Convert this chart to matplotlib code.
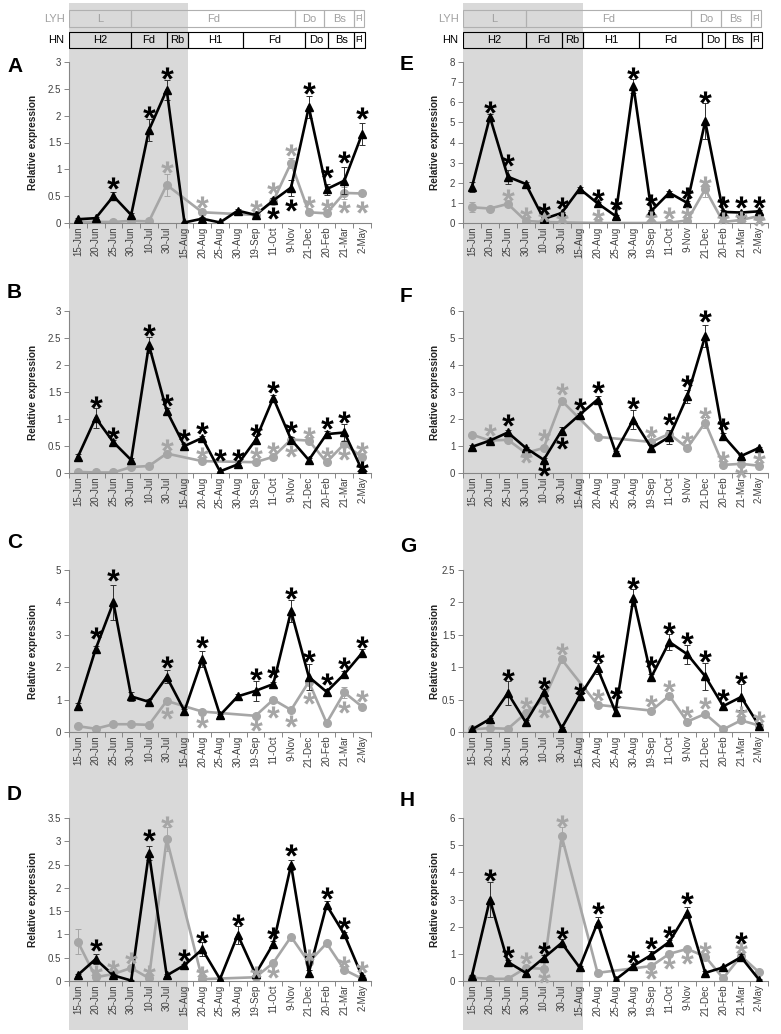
import numpy as np
import matplotlib
matplotlib.use('Agg')
import matplotlib.pyplot as plt
from matplotlib.patches import Rectangle
from matplotlib.textpath import TextPath
from matplotlib.font_manager import FontProperties
from matplotlib.path import Path
from matplotlib.ticker import FuncFormatter

plt.rcParams['font.family'] = ['Liberation Sans', 'DejaVu Sans']

N = np.nan

dates = ['15-Jun', '20-Jun', '25-Jun', '30-Jun', '10-Jul', '30-Jul', '15-Aug', '20-Aug', '25-Aug',
         '30-Aug', '19-Sep', '11-Oct', '9-Nov', '21-Dec', '20-Feb', '21-Mar', '2-May']

# header strips (stage boundaries in category units)
lyh_bounds = [-0.5, 3.0, 12.23, 13.86, 15.55, 16.1]
lyh_labels = ['L', 'Fd', 'Do', 'Bs', 'Fl']
hn_bounds = [-0.5, 3.0, 5.0, 6.2, 9.3, 12.8, 14.08, 15.55, 16.15]
hn_labels = ['H2', 'Fd', 'Rb', 'H1', 'Fd', 'Do', 'Bs', 'Fl']
shade_end = 6.2

# ---------------- panel A ----------------
a_black = [0.07, 0.09, 0.5, 0.15, 1.73, 2.48, 0.01, 0.08, 0.01, 0.23, 0.15, 0.42, 0.66, 2.16, 0.63, 0.79, 1.66]
a_gray = [0.02, 0.02, 0.02, 0.04, 0.03, 0.71, N, 0.2, N, N, 0.15, 0.41, 1.12, 0.2, 0.18, 0.56, 0.55]
a_black_err = [0.02, 0.02, 0.07, 0.03, 0.2, 0.18, 0.01, 0.03, 0.01, 0.03, 0.03, 0.05, 0.15, 0.2, 0.1, 0.25, 0.2]
a_gray_err = [0, 0, 0, 0, 0, 0.2, 0, 0.02, 0, 0, 0.02, 0.03, 0.1, 0.02, 0.02, 0.12, 0.05]
a_black_star = [N, N, 0.74, N, 2.07, 2.8, N, N, N, N, N, 0.19, 0.33, 2.52, 0.95, 1.23, 2.05]
a_gray_star = [N, N, N, N, N, 1.04, N, 0.39, N, N, 0.32, 0.65, 1.36, 0.39, 0.33, 0.3, 0.3]

# ---------------- panel B ----------------
b_black = [0.3, 1.02, 0.57, 0.24, 2.37, 1.15, 0.5, 0.65, 0.03, 0.16, 0.61, 1.39, 0.62, 0.24, 0.72, 0.75, 0.05]
b_gray = [0.02, 0.01, 0.01, 0.11, 0.13, 0.36, N, 0.22, N, N, 0.2, 0.3, 0.62, 0.6, 0.2, 0.54, 0.29]
b_black_err = [0.06, 0.18, 0.05, 0.03, 0.15, 0.05, 0.03, 0.04, 0.01, 0.02, 0.08, 0.06, 0.05, 0.03, 0.06, 0.15, 0.02]
b_gray_err = [0, 0, 0, 0.01, 0.01, 0.03, 0, 0.02, 0, 0, 0.02, 0.03, 0.04, 0.05, 0.02, 0.05, 0.03]
b_black_star = [N, 1.31, 0.74, N, 2.65, 1.35, 0.7, 0.83, 0.33, 0.33, 0.8, 1.6, 0.85, N, 0.93, 1.04, 0.11]
b_gray_star = [N, N, N, N, N, 0.52, N, 0.37, N, N, 0.37, 0.46, 0.41, 0.74, 0.37, 0.35, 0.46]

# ---------------- panel C ----------------
c_black = [0.8, 2.56, 4.0, 1.1, 0.93, 1.7, 0.65, 2.25, 0.52, 1.1, 1.27, 1.48, 3.73, 1.7, 1.24, 1.79, 2.44]
c_gray = [0.18, 0.1, 0.24, 0.24, 0.22, 0.96, N, 0.63, N, N, 0.5, 1.0, 0.68, 1.55, 0.28, 1.22, 0.78]
c_black_err = [0.1, 0.1, 0.55, 0.15, 0.08, 0.2, 0.05, 0.25, 0.03, 0.07, 0.3, 0.05, 0.35, 0.4, 0.1, 0.08, 0.12]
c_gray_err = [0.02, 0.02, 0.02, 0.02, 0.02, 0.08, 0, 0.04, 0, 0, 0.04, 0.08, 0.05, 0.1, 0.03, 0.18, 0.04]
c_black_star = [N, 3.06, 4.85, N, N, 2.16, N, 2.78, N, N, 1.79, 1.85, 4.28, 2.34, 1.63, 2.13, 2.78]
c_gray_star = [N, N, N, N, N, 0.58, N, 0.3, N, N, 0.22, 0.62, 0.34, 1.05, N, 0.78, 1.1]

# ---------------- panel D ----------------
d_black = [0.13, 0.47, 0.12, 0.01, 2.75, 0.12, 0.34, 0.68, 0.04, 0.99, 0.15, 0.8, 2.49, 0.18, 1.63, 1.0, 0.1]
d_gray = [0.84, 0.08, 0.15, 0.28, 0.06, 3.05, N, 0.04, N, N, 0.08, 0.39, 0.95, 0.4, 0.81, 0.24, 0.05]
d_black_err = [0.03, 0.1, 0.02, 0.01, 0.15, 0.02, 0.03, 0.15, 0.01, 0.2, 0.03, 0.05, 0.1, 0.05, 0.08, 0.05, 0.02]
d_gray_err = [0.27, 0.01, 0.02, 0.03, 0.01, 0.25, 0, 0.01, 0, 0, 0.01, 0.03, 0.04, 0.05, 0.04, 0.03, 0.01]
d_black_star = [N, 0.77, N, N, 3.13, N, 0.56, 0.95, N, 1.31, N, 1.03, 2.81, N, 1.89, 1.24, N]
d_gray_star = [N, 0.21, 0.32, 0.49, 0.21, 3.41, N, 0.19, N, N, 0.19, 0.19, N, 0.56, N, 0.41, 0.3]

# ---------------- panel E ----------------
e_black = [1.8, 5.27, 2.3, 1.94, 0.2, 0.5, 1.7, 0.98, 0.35, 6.8, 0.6, 1.5, 1.0, 5.05, 0.55, 0.52, 0.58]
e_gray = [0.78, 0.72, 0.95, 0.1, 0.05, 0.03, N, 0.0, N, N, 0.0, 0.02, 0.12, 1.68, 0.05, 0.15, 0.35]
e_black_err = [0.25, 0.15, 0.35, 0.1, 0.05, 0.05, 0.1, 0.08, 0.05, 0.35, 0.05, 0.1, 0.08, 0.9, 0.08, 0.08, 0.08]
e_gray_err = [0.25, 0.05, 0.08, 0.02, 0.01, 0.01, 0, 0.01, 0, 0, 0.01, 0.01, 0.02, 0.4, 0.01, 0.02, 0.05]
e_black_star = [N, 5.77, 3.13, N, 0.7, 1.0, N, 1.39, 0.95, 7.46, 1.14, N, 1.5, 6.27, 1.05, 1.05, 1.05]
e_gray_star = [N, N, 1.39, 0.5, 0.35, 0.25, N, 0.4, N, N, 0.3, 0.5, 0.5, 2.04, 0.25, 0.3, 0.15]

# ---------------- panel F ----------------
f_black = [0.97, 1.2, 1.5, 0.93, 0.49, 1.57, 2.16, 2.72, 0.78, 1.98, 0.93, 1.34, 2.84, 5.07, 1.38, 0.63, 0.93]
f_gray = [1.42, 1.2, 1.23, 0.74, 0.93, 2.68, N, 1.34, N, N, 1.15, 1.45, 0.93, 1.87, 0.3, 0.34, 0.27]
f_black_err = [0.05, 0.05, 0.1, 0.05, 0.05, 0.15, 0.05, 0.15, 0.05, 0.35, 0.1, 0.25, 0.25, 0.4, 0.1, 0.05, 0.05]
f_gray_err = [0.05, 0.05, 0.05, 0.05, 0.05, 0.1, 0, 0.05, 0, 0, 0.25, 0.05, 0.05, 0.2, 0.03, 0.03, 0.03]
f_black_star = [N, N, 1.98, N, 0.1, 1.12, 2.54, 3.17, N, 2.61, N, 2.01, 3.4, 5.82, 1.83, N, N]
f_gray_star = [N, 1.6, N, 0.6, 1.42, 3.1, N, N, N, N, 1.53, N, 1.31, 2.24, 0.6, 0.04, 0.56]

# ---------------- panel G ----------------
g_black = [0.04, 0.2, 0.6, 0.15, 0.61, 0.06, 0.55, 0.98, 0.31, 2.07, 0.85, 1.39, 1.2, 0.86, 0.4, 0.54, 0.1]
g_gray = [0.04, 0.06, 0.05, 0.29, 0.5, 1.12, N, 0.42, N, N, 0.33, 0.56, 0.16, 0.28, 0.04, 0.18, 0.1]
g_black_err = [0.01, 0.02, 0.18, 0.03, 0.05, 0.01, 0.03, 0.08, 0.07, 0.13, 0.05, 0.12, 0.15, 0.21, 0.03, 0.2, 0.02]
g_gray_err = [0.01, 0.01, 0.01, 0.03, 0.04, 0.05, 0, 0.03, 0, 0, 0.03, 0.04, 0.02, 0.03, 0.01, 0.02, 0.01]
g_black_star = [N, N, 0.88, N, 0.75, N, 0.66, 1.16, 0.6, 2.3, 1.08, 1.6, 1.45, 1.17, 0.57, 0.83, N]
g_gray_star = [N, N, N, 0.45, 0.31, 1.28, N, 0.57, N, N, 0.48, 0.71, 0.31, 0.45, N, 0.31, 0.23]

# ---------------- panel H ----------------
h_black = [0.2, 3.0, 0.7, 0.3, 0.85, 1.4, 0.5, 2.15, 0.05, 0.56, 0.96, 1.44, 2.52, 0.3, 0.5, 0.88, 0.05]
h_gray = [0.12, 0.08, 0.08, 0.48, 0.45, 5.33, N, 0.3, N, N, 0.55, 1.0, 1.18, 0.9, 0.1, 0.92, 0.32]
h_black_err = [0.03, 0.65, 0.08, 0.05, 0.1, 0.15, 0.05, 0.2, 0.01, 0.05, 0.15, 0.08, 0.2, 0.05, 0.05, 0.1, 0.02]
h_gray_err = [0.02, 0.01, 0.01, 0.05, 0.1, 0.35, 0, 0.03, 0, 0, 0.05, 0.08, 0.08, 0.08, 0.02, 0.1, 0.03]
h_black_star = [N, 3.89, 1.07, N, 1.22, 1.78, N, 2.67, N, 0.89, 1.41, 1.81, 3.04, N, N, 1.59, N]
h_gray_star = [N, N, N, 0.85, 0.15, 5.89, N, N, N, N, 0.3, 0.67, 0.85, 1.22, N, 1.22, N]

panels = [
    ('A', a_black, a_gray, a_black_err, a_gray_err, a_black_star, a_gray_star, 3, 0.5),
    ('B', b_black, b_gray, b_black_err, b_gray_err, b_black_star, b_gray_star, 3, 0.5),
    ('C', c_black, c_gray, c_black_err, c_gray_err, c_black_star, c_gray_star, 5, 1),
    ('D', d_black, d_gray, d_black_err, d_gray_err, d_black_star, d_gray_star, 3.5, 0.5),
    ('E', e_black, e_gray, e_black_err, e_gray_err, e_black_star, e_gray_star, 8, 1),
    ('F', f_black, f_gray, f_black_err, f_gray_err, f_black_star, f_gray_star, 6, 1),
    ('G', g_black, g_gray, g_black_err, g_gray_err, g_black_star, g_gray_star, 2.5, 0.5),
    ('H', h_black, h_gray, h_black_err, h_gray_err, h_black_star, h_gray_star, 6, 1),
]

W, H = 781, 1034
BLACK = '#000000'
GRAY = '#a6a6a6'
AXC = '#868686'
TXT = '#404040'

cols = [(69, 371), (463, 768)]
rows = [(62, 223), (311, 473), (570, 732), (818, 981)]
letter_pos = {'A': (7, 67), 'B': (7, 292), 'C': (7, 542), 'D': (7, 795),
              'E': (400, 65), 'F': (400, 297), 'G': (400, 547), 'H': (400, 800)}


def rect(x0, y0, x1, y1):
    return [x0 / W, 1 - y1 / H, (x1 - x0) / W, (y1 - y0) / H]


# asterisk marker built from the font glyph, centred on its ink
fp = FontProperties(family='Liberation Sans', weight='bold')
tp = TextPath((0, 0), '*', size=1, prop=fp)
verts = tp.vertices.copy()
codes = tp.codes.copy()
for i in range(len(codes)):
    if codes[i] == Path.CLOSEPOLY:
        verts[i] = verts[i - 1]
ctr = (verts.min(axis=0) + verts.max(axis=0)) / 2
star = Path(verts - ctr, codes)

fig = plt.figure(figsize=(W / 100, H / 100), dpi=100)

x = np.arange(len(dates))

# grey shading of the first part of the season, across the whole column
for (cx0, cx1) in cols:
    sx1 = cx0 + (shade_end + 0.5) / len(dates) * (cx1 - cx0)
    fig.patches.append(Rectangle((cx0 / W, 1 - 1030 / H), (sx1 - cx0) / W, (1030 - 3) / H,
                                 transform=fig.transFigure, facecolor='#d9d9d9',
                                 edgecolor='none', zorder=-5))

for k, (lab, blk, gry, blk_e, gry_e, blk_s, gry_s, ymax, ystep) in enumerate(panels):
    ci, ri = k // 4, k % 4
    cx0, cx1 = cols[ci]
    ry0, ry1 = rows[ri]
    ax = fig.add_axes(rect(cx0, ry0, cx1, ry1))
    ax.set_facecolor('none')

    blk = np.array(blk, dtype=float)
    gry = np.array(gry, dtype=float)
    blk_e = np.array(blk_e, dtype=float)
    gry_e = np.array(gry_e, dtype=float)

    ok = np.isfinite(gry)
    m = ok & (gry_e > 0)
    ax.errorbar(x[m], gry[m], yerr=gry_e[m], fmt='none', ecolor=GRAY, elinewidth=0.7,
                capsize=2, capthick=0.7, zorder=2)
    ax.plot(x[ok], gry[ok], color=GRAY, lw=1.9, marker='o', ms=5.5, mec=GRAY, zorder=2.5)

    m = blk_e > 0
    ax.errorbar(x[m], blk[m], yerr=blk_e[m], fmt='none', ecolor='#303030', elinewidth=0.7,
                capsize=2, capthick=0.7, zorder=3)
    ax.plot(x, blk, color=BLACK, lw=1.9, marker='^', ms=5.5, zorder=3.5)

    s = np.array(gry_s, dtype=float)
    ax.plot(x, s, ls='none', marker=star, ms=9, color=GRAY, mew=0, zorder=4, clip_on=False)
    s = np.array(blk_s, dtype=float)
    ax.plot(x, s, ls='none', marker=star, ms=9, color=BLACK, mew=0, zorder=4, clip_on=False)

    ax.set_xlim(-0.5, len(dates) - 0.5)
    ax.set_ylim(0, ymax)
    ax.set_yticks(np.arange(0, ymax + ystep / 2, ystep))
    ax.yaxis.set_major_formatter(FuncFormatter(lambda v, p: '%g' % v))

    ax.set_xticks(np.arange(-0.5, len(dates), 1))
    ax.set_xticklabels([])
    ax.set_xticks(x, minor=True)
    ax.set_xticklabels(dates, minor=True, rotation=90)
    ax.tick_params(axis='x', which='major', direction='out', length=3.5, width=0.7, color=AXC)
    ax.tick_params(axis='x', which='minor', length=0, pad=2.5, labelsize=7, labelcolor=TXT)
    ax.tick_params(axis='y', direction='out', length=3.5, width=0.7, color=AXC,
                   labelsize=7, labelcolor=TXT, pad=2)

    for sp in ['top', 'right']:
        ax.spines[sp].set_visible(False)
    for sp in ['left', 'bottom']:
        ax.spines[sp].set_color(AXC)
        ax.spines[sp].set_linewidth(0.8)

    ax.set_ylabel('Relative expression', fontsize=7.3, fontweight='bold', color='#202020')
    lx = 38 if ci == 0 else 440
    ax.yaxis.set_label_coords((lx - cx0) / (cx1 - cx0), 0.5)

    lxp, lyp = letter_pos[lab]
    fig.text(lxp / W, 1 - lyp / H, lab, fontsize=15, fontweight='bold', ha='left', va='center')

    # header strips above the top panels
    if ri == 0:
        hx = fig.add_axes(rect(cx0, 8, cx1, 50))
        hx.set_facecolor('none')
        hx.set_xlim(-0.5, len(dates) - 0.5)
        hx.set_ylim(50, 8)
        hx.axis('off')
        for i, t in enumerate(lyh_labels):
            b0, b1 = lyh_bounds[i], lyh_bounds[i + 1]
            hx.add_patch(Rectangle((b0, 10), b1 - b0, 17, facecolor='none',
                                   edgecolor='#b0b0b0', lw=0.8))
            hx.text((b0 + b1) / 2, 18.5, t, ha='center', va='center', fontsize=8 if t != 'Fl' else 6.5,
                    color='#a0a0a0')
        for i, t in enumerate(hn_labels):
            b0, b1 = hn_bounds[i], hn_bounds[i + 1]
            hx.add_patch(Rectangle((b0, 32), b1 - b0, 16, facecolor='none',
                                   edgecolor='#000000', lw=0.8))
            hx.text((b0 + b1) / 2, 40, t, ha='center', va='center', fontsize=8 if t != 'Fl' else 6.5,
                    color='#000000')
        hx.text(-0.75, 18.5, 'LYH', ha='right', va='center', fontsize=8, color='#a0a0a0')
        hx.text(-0.75, 40, 'HN', ha='right', va='center', fontsize=8, color='#000000')

fig.savefig('out.png', dpi=100)
